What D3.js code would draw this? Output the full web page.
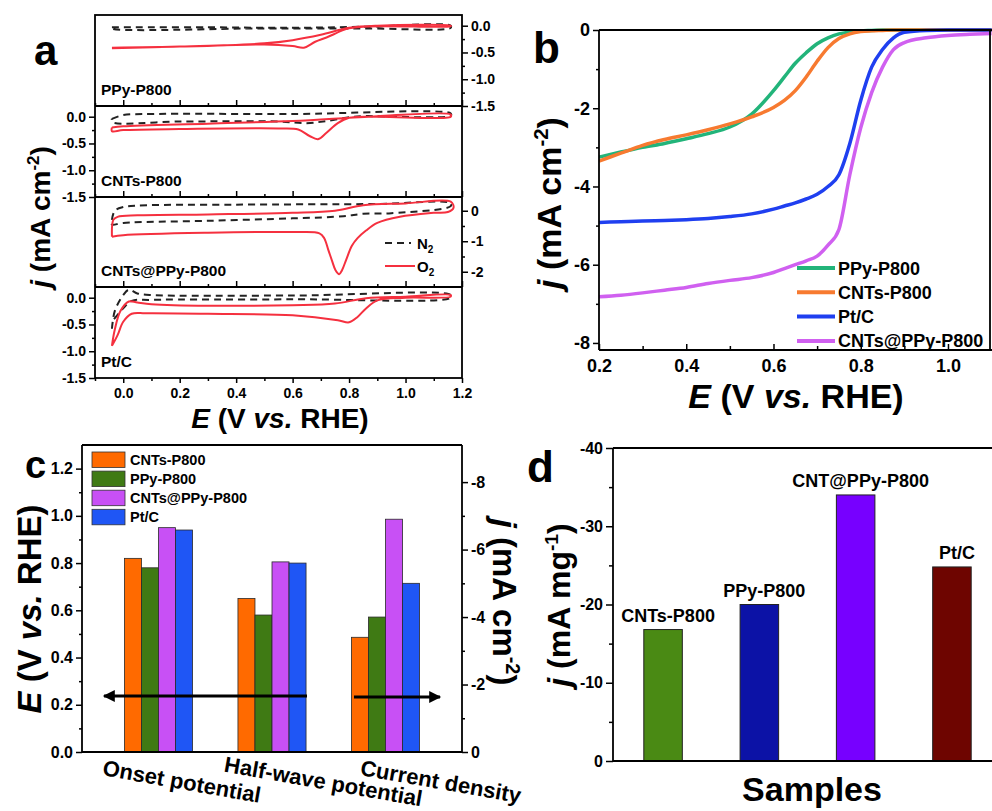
<!DOCTYPE html>
<html>
<head>
<meta charset="utf-8">
<script src="https://cdn.jsdelivr.net/npm/d3@7"></script>
<style>
body { margin: 0; background: #fff; }
svg { display: block; }
text { font-family: "Liberation Sans", Arial, sans-serif; font-weight: bold; fill: #000; }
</style>
</head>
<body>
<svg width="992" height="811"></svg>
<script>
// ---- panel a : CV loops, [E, j] in sweep order ----
var cvNames = ["PPy-P800", "CNTs-P800", "CNTs@PPy-P800", "Pt/C"];
var ppyN2 = [[-0.04,-0.03],[0.3,-0.03],[0.6,-0.04],[0.85,-0.02],[1.16,0.0],[1.16,-0.04],[0.85,-0.05],[0.5,-0.05],[-0.04,-0.05],[-0.04,-0.03]];
var ppyO2 = [[-0.04,-0.41],[0.2,-0.39],[0.5,-0.33],[0.6,-0.27],[0.7,-0.17],[0.8,-0.04],[0.9,0.0],[1.16,0.0],
             [1.16,-0.01],[0.9,-0.01],[0.8,-0.05],[0.72,-0.22],[0.68,-0.3],[0.64,-0.41],[0.6,-0.38],[0.5,-0.35],[0.2,-0.39],[-0.04,-0.42]];
var cntN2 = [[-0.04,-0.04],[0.0,0.03],[0.1,0.05],[0.6,0.05],[1.16,0.06],[1.16,0.02],[0.85,0.01],[0.8,-0.01],[0.72,-0.08],[0.65,-0.12],[0.55,-0.09],[0.2,-0.09],[-0.04,-0.1],[-0.04,-0.04]];
var cntO2 = [[-0.04,-0.2],[0.0,-0.18],[0.3,-0.13],[0.6,-0.08],[0.8,-0.02],[0.9,0.01],[1.16,0.04],
             [1.16,0.0],[0.9,0.0],[0.8,-0.02],[0.76,-0.12],[0.72,-0.3],[0.69,-0.42],[0.66,-0.36],[0.62,-0.24],[0.55,-0.22],[0.2,-0.23],[0.0,-0.25],[-0.04,-0.27],[-0.04,-0.2]];
var hybN2 = [[-0.04,-0.3],[-0.03,0.0],[0.0,0.12],[0.05,0.17],[0.4,0.2],[0.9,0.22],[1.16,0.25],[1.16,0.15],[0.95,-0.08],[0.85,-0.1],[0.78,-0.18],[0.6,-0.25],[0.3,-0.33],[0.0,-0.4],[-0.04,-0.45],[-0.04,-0.3]];
var hybO2 = [[-0.04,-0.85],[-0.035,-0.3],[-0.02,-0.2],[0.05,-0.15],[0.3,-0.12],[0.6,-0.07],[0.75,0.0],[0.85,0.18],[1.0,0.24],[1.16,0.3],[1.17,0.1],[1.15,-0.04],
             [1.1,-0.07],[0.98,-0.2],[0.9,-0.4],[0.86,-0.65],[0.83,-0.9],[0.81,-1.15],[0.79,-1.6],[0.775,-1.95],[0.765,-2.08],[0.752,-1.95],[0.74,-1.65],[0.727,-1.3],[0.712,-0.9],[0.695,-0.74],[0.6,-0.7],[0.3,-0.72],[0.0,-0.8],[-0.04,-0.85]];
var ptcN2 = [[-0.04,-0.58],[-0.03,-0.25],[0.0,0.05],[0.02,0.15],[0.05,0.08],[0.1,0.05],[0.6,0.04],[1.16,0.05],[1.16,0.0],[0.6,-0.03],[0.1,-0.04],[0.03,-0.06],[0.0,-0.2],[-0.04,-0.45]];
var ptcO2 = [[-0.04,-0.9],[-0.03,-0.6],[-0.01,-0.25],[0.02,-0.07],[0.05,-0.09],[0.1,-0.12],[0.3,-0.15],[0.6,-0.14],[0.75,-0.11],[0.86,-0.01],[1.0,0.02],[1.16,0.05],
             [1.16,0.02],[1.0,0.0],[0.9,-0.05],[0.86,-0.2],[0.83,-0.36],[0.8,-0.46],[0.76,-0.42],[0.6,-0.33],[0.3,-0.3],[0.08,-0.29],[0.03,-0.3],[0.0,-0.45],[-0.02,-0.7],[-0.04,-0.9]];
var cvN2 = [ppyN2, cntN2, hybN2, ptcN2];
var cvO2 = [ppyO2, cntO2, hybO2, ptcO2];
var aTicksX = [0, 0.2, 0.4, 0.6, 0.8, 1.0, 1.2];

// ---- panel b : LSV ----
var lsvNames = ["PPy-P800", "CNTs-P800", "Pt/C", "CNTs@PPy-P800"];
var lsvE = [0.2,0.25,0.3,0.35,0.4,0.45,0.5,0.55,0.6,0.625,0.65,0.675,0.7,0.725,0.75,0.775,0.8,0.825,0.85,0.875,0.9,0.95,1.0,1.05,1.1];
var lsvPPy = [-3.25,-3.12,-3.0,-2.9,-2.78,-2.65,-2.48,-2.15,-1.55,-1.2,-0.85,-0.58,-0.35,-0.2,-0.1,-0.05,-0.02,-0.01,0,0,0,0,0,0,0];
var lsvCNT = [-3.35,-3.15,-2.95,-2.8,-2.68,-2.55,-2.4,-2.22,-1.98,-1.8,-1.55,-1.2,-0.8,-0.45,-0.22,-0.1,-0.04,-0.02,-0.01,0,0,0,0,0,0];
var lsvPtC = [-4.92,-4.9,-4.88,-4.87,-4.85,-4.82,-4.77,-4.7,-4.58,-4.5,-4.42,-4.32,-4.2,-4.0,-3.7,-2.9,-1.8,-0.95,-0.5,-0.2,-0.06,-0.01,0,0,0];
var lsvHyb = [-6.82,-6.78,-6.72,-6.65,-6.58,-6.48,-6.4,-6.33,-6.2,-6.1,-6.0,-5.9,-5.78,-5.5,-5.1,-3.7,-2.5,-1.6,-0.95,-0.5,-0.32,-0.2,-0.14,-0.11,-0.09];
var lsvSeries = [lsvPPy, lsvCNT, lsvPtC, lsvHyb];
var lsvColors = ["#22b47a", "#f77a30", "#1f3ff0", "#d060f0"];

// ---- panel c : grouped bars ----
var cCats = ["Onset potential", "Half-wave potential", "Current density"];
var cSeries = ["CNTs-P800", "PPy-P800", "CNTs@PPy-P800", "Pt/C"];
var onsetPotential = [0.82, 0.78, 0.95, 0.94];
var halfWavePotential = [0.65, 0.58, 0.805, 0.80];
var currentDensity = [-3.4, -4.0, -6.9, -5.0];
var cColors = ["#ff6a00", "#3f7a14", "#c850f5", "#1f56f5"];

// ---- panel d : mass activity ----
var dSamples = ["CNTs-P800", "PPy-P800", "CNT@PPy-P800", "Pt/C"];
var dValues = [-16.8, -20.0, -34.0, -24.8];
var dColors = ["#4a8a14", "#0c12a6", "#7700ff", "#6e0500"];

var svg = d3.select("svg");

function drawAxis(gen, tx, ty, size) {
  var g = svg.append("g").attr("transform", "translate(" + tx + "," + ty + ")").call(gen);
  g.select(".domain").remove();
  g.selectAll("line").attr("stroke", "#000").attr("stroke-width", 1.5);
  g.selectAll("text").attr("font-size", size).attr("fill", "#000");
  return g;
}
function hline(x1, x2, y) {
  svg.append("line").attr("x1", x1).attr("x2", x2).attr("y1", y).attr("y2", y).attr("stroke", "#000").attr("stroke-width", 1.8);
}
function vline(x, y1, y2) {
  svg.append("line").attr("x1", x).attr("x2", x).attr("y1", y1).attr("y2", y2).attr("stroke", "#000").attr("stroke-width", 1.8);
}
function label(x, y, txt, size, rot, anchor) {
  return svg.append("text").attr("transform", "translate(" + x + "," + y + ")" + (rot ? " rotate(" + rot + ")" : ""))
    .attr("text-anchor", anchor || "middle").attr("font-size", size).text(txt);
}
function unitLabel(x, y, size, rot, sup, unit) {
  var t = label(x, y, "", size, rot);
  t.append("tspan").attr("font-style", "italic").text("j");
  t.append("tspan").text(" (mA " + unit);
  t.append("tspan").attr("font-size", size * 0.6).attr("dy", -size * 0.38).text(sup);
  t.append("tspan").attr("dy", size * 0.38).text(")");
}
function evsLabel(x, y, size, rot) {
  var t = label(x, y, "", size, rot);
  t.append("tspan").attr("font-style", "italic").text("E");
  t.append("tspan").text(" (V ");
  t.append("tspan").attr("font-style", "italic").text("vs.");
  t.append("tspan").text(" RHE)");
}

// ================= panel a =================
var aX = d3.scaleLinear().domain([-0.1, 1.2]).range([95, 462]);
var aTop = [15, 106, 197, 287], aBot = [106, 197, 287, 378];
var aDom = [[-1.5, 0.2], [-1.5, 0.2], [-2.5, 0.45], [-1.5, 0.2]];
var aMinorX = d3.range(-0.1, 1.2, 0.2).map(function(v) { return +v.toFixed(1); });

cvNames.forEach(function(name, i) {
  var y = d3.scaleLinear().domain(aDom[i]).range([aBot[i], aTop[i]]);
  var line = d3.line().x(function(d) { return aX(d[0]); }).y(function(d) { return y(d[1]); }).curve(d3.curveCatmullRom);
  svg.append("path").attr("d", line(cvN2[i])).attr("fill", "none").attr("stroke", "#222")
    .attr("stroke-width", 2).attr("stroke-dasharray", "7,5");
  svg.append("path").attr("d", line(cvO2[i])).attr("fill", "none").attr("stroke", "#f5303f").attr("stroke-width", 2);

  var big = i === 2;
  var major = big ? [0, -1, -2] : [0, -0.5, -1, -1.5];
  var minor = big ? [-0.5, -1.5] : [-0.25, -0.75, -1.25];
  var fmt = big ? function(v) { return String(v); } : function(v) { return v.toFixed(1); };
  var right = (i === 0 || i === 2);
  var ax = right ? d3.axisRight(y) : d3.axisLeft(y);
  drawAxis(ax.tickValues(major).tickSize(6).tickPadding(3).tickFormat(fmt), right ? 462 : 95, 0, 14);
  drawAxis((right ? d3.axisRight(y) : d3.axisLeft(y)).tickValues(minor).tickSize(3).tickFormat(""), right ? 462 : 95, 0, 14);

  if (i < 3) {
    drawAxis(d3.axisBottom(aX).tickValues(aTicksX).tickSize(-6).tickFormat(""), 0, aBot[i], 14);
    drawAxis(d3.axisBottom(aX).tickValues(aMinorX).tickSize(-3).tickFormat(""), 0, aBot[i], 14);
  } else {
    drawAxis(d3.axisBottom(aX).tickValues(aTicksX).tickSize(5).tickPadding(5).tickFormat(function(v) { return v.toFixed(1); }), 0, aBot[i], 14);
    drawAxis(d3.axisBottom(aX).tickValues(aMinorX).tickSize(3).tickFormat(""), 0, aBot[i], 14);
  }
  label(101, aBot[i] - 11, name, 15.5, 0, "start");
  if (i > 0) hline(95, 462, aTop[i]);
});
svg.append("rect").attr("x", 95).attr("y", 15).attr("width", 367).attr("height", 363)
  .attr("fill", "none").attr("stroke", "#000").attr("stroke-width", 1.8);

// N2 / O2 legend
svg.append("line").attr("x1", 385).attr("x2", 411).attr("y1", 243).attr("y2", 243)
  .attr("stroke", "#222").attr("stroke-width", 2).attr("stroke-dasharray", "7,5");
svg.append("line").attr("x1", 385).attr("x2", 415).attr("y1", 266).attr("y2", 266)
  .attr("stroke", "#f5303f").attr("stroke-width", 2);
["N", "O"].forEach(function(s, k) {
  var t = label(417, 249 + k * 23, s, 15, 0, "start");
  t.append("tspan").attr("font-size", 10).attr("dy", 4).text("2");
});

label(34, 65, "a", 42, 0, "start");
unitLabel(50, 217, 28, -90, "-2", "cm");
evsLabel(280, 428, 28, 0);

// ================= panel b =================
var bX = d3.scaleLinear().domain([0.2, 1.1]).range([599, 991.6]);
var bY = d3.scaleLinear().domain([-8.18, 0]).range([350, 30]);
svg.append("clipPath").attr("id", "bclip").append("rect").attr("x", 599).attr("y", 28).attr("width", 393).attr("height", 324);
var bLine = d3.line().x(function(d, k) { return bX(lsvE[k]); }).y(function(d) { return bY(d); }).curve(d3.curveMonotoneX);
lsvSeries.forEach(function(s, i) {
  svg.append("path").attr("d", bLine(s)).attr("fill", "none").attr("stroke", lsvColors[i])
    .attr("stroke-width", 3.5).attr("clip-path", "url(#bclip)");
});
drawAxis(d3.axisLeft(bY).tickValues([0, -2, -4, -6, -8]).tickSize(6).tickPadding(3).tickFormat(function(v) { return String(v); }), 599, 0, 18);
drawAxis(d3.axisLeft(bY).tickValues([-1, -3, -5, -7]).tickSize(3).tickFormat(""), 599, 0, 18);
drawAxis(d3.axisBottom(bX).tickValues([0.2, 0.4, 0.6, 0.8, 1.0]).tickSize(-6).tickPadding(9).tickFormat(function(v) { return v.toFixed(1); }), 0, 350, 18);
drawAxis(d3.axisBottom(bX).tickValues([0.3, 0.5, 0.7, 0.9]).tickSize(-4).tickFormat(""), 0, 350, 18);
hline(599, 992, 30); hline(599, 992, 350); vline(599, 30, 350); vline(990, 30, 350);

lsvNames.forEach(function(n, i) {
  var yy = 268 + i * 24.3;
  svg.append("line").attr("x1", 797).attr("x2", 835).attr("y1", yy).attr("y2", yy)
    .attr("stroke", lsvColors[i]).attr("stroke-width", 4);
  label(838, yy + 6.5, n, 18, 0, "start");
});
label(533, 63, "b", 44, 0, "start");
unitLabel(561, 203, 34, -90, "-2", "cm");
evsLabel(796, 408, 34, 0);

// ================= panel c =================
var cY = d3.scaleLinear().domain([0, 1.3]).range([752, 445]);
var cYR = d3.scaleLinear().domain([0, -9.1]).range([752, 445]);
var cX = d3.scaleBand().domain(cCats).range([82, 462]).paddingInner(0.4).paddingOuter(0.374);
var cSub = d3.scaleBand().domain(cSeries).range([0, cX.bandwidth()]);
var cRows = [onsetPotential, halfWavePotential, currentDensity];
var cScales = [cY, cY, cYR];

cCats.forEach(function(cat, gi) {
  svg.append("g").attr("transform", "translate(" + cX(cat) + ",0)")
    .selectAll("rect").data(cRows[gi]).enter().append("rect")
    .attr("x", function(d, k) { return cSub(cSeries[k]); })
    .attr("width", cSub.bandwidth())
    .attr("y", function(d) { return cScales[gi](d); })
    .attr("height", function(d) { return 752 - cScales[gi](d); })
    .attr("fill", function(d, k) { return cColors[k]; })
    .attr("stroke", "#2a2a2a").attr("stroke-width", 0.8);
});
drawAxis(d3.axisLeft(cY).tickValues([0, 0.2, 0.4, 0.6, 0.8, 1.0, 1.2]).tickSize(6).tickPadding(3).tickFormat(function(v) { return v.toFixed(1); }), 82, 0, 16);
drawAxis(d3.axisLeft(cY).tickValues([0.1, 0.3, 0.5, 0.7, 0.9, 1.1]).tickSize(3).tickFormat(""), 82, 0, 16);
drawAxis(d3.axisRight(cYR).tickValues([0, -2, -4, -6, -8]).tickSize(6).tickPadding(3).tickFormat(function(v) { return String(v); }), 462, 0, 16);
drawAxis(d3.axisRight(cYR).tickValues([-1, -3, -5, -7]).tickSize(3).tickFormat(""), 462, 0, 16);
hline(82, 462, 445); hline(82, 462, 752); vline(82, 445, 752); vline(462, 445, 752);

// category labels, slightly tilted
var catDx = [22, 50, 54];
cCats.forEach(function(cat, gi) {
  label(cX(cat) + cX.bandwidth() / 2 + catDx[gi], 789, cat, 22, 10);
});

// arrows pointing to the axis each group is read from
var defs = svg.append("defs");
defs.append("marker").attr("id", "arrowHead").attr("viewBox", "0 0 10 10").attr("refX", 9).attr("refY", 5)
  .attr("markerWidth", 5).attr("markerHeight", 4).attr("orient", "auto").attr("markerUnits", "strokeWidth")
  .append("path").attr("d", "M0,0L10,5L0,10z").attr("fill", "#000");
svg.append("line").attr("x1", 307).attr("x2", 104).attr("y1", 696).attr("y2", 696)
  .attr("stroke", "#000").attr("stroke-width", 3).attr("marker-end", "url(#arrowHead)");
svg.append("line").attr("x1", 354).attr("x2", 440).attr("y1", 697).attr("y2", 697)
  .attr("stroke", "#000").attr("stroke-width", 3).attr("marker-end", "url(#arrowHead)");

cSeries.forEach(function(n, k) {
  svg.append("rect").attr("x", 92).attr("y", 452 + k * 19.1).attr("width", 33).attr("height", 15.5)
    .attr("fill", cColors[k]).attr("stroke", "#333").attr("stroke-width", 0.8);
  label(130, 465 + k * 19.1, n, 14.5, 0, "start");
});
label(25, 478, "c", 38, 0, "start");
evsLabel(41, 609, 33, -90);
unitLabel(493, 602, 33, 90, "-2", "cm");

// ================= panel d =================
var dY = d3.scaleLinear().domain([0, -40]).range([761, 448]);
var dX = d3.scaleBand().domain(dSamples).range([613, 1002]).paddingInner(0.6).paddingOuter(0.32);
svg.append("g").selectAll("rect").data(dValues).enter().append("rect")
  .attr("x", function(d, k) { return dX(dSamples[k]); })
  .attr("width", dX.bandwidth())
  .attr("y", function(d) { return dY(d); })
  .attr("height", function(d) { return 761 - dY(d); })
  .attr("fill", function(d, k) { return dColors[k]; })
  .attr("stroke", "#222").attr("stroke-width", 1);
svg.append("g").selectAll("text").data(dValues).enter().append("text")
  .attr("x", function(d, k) { return dX(dSamples[k]) + dX.bandwidth() / 2 + 5; })
  .attr("y", function(d) { return dY(d) - 8; })
  .attr("text-anchor", "middle").attr("font-size", 18)
  .text(function(d, k) { return dSamples[k]; });
drawAxis(d3.axisLeft(dY).tickValues([0, -10, -20, -30, -40]).tickSize(7).tickPadding(3).tickFormat(function(v) { return String(v); }), 613, 0, 16);
drawAxis(d3.axisLeft(dY).tickValues([-5, -15, -25, -35]).tickSize(4).tickFormat(""), 613, 0, 16);
hline(613, 992, 448); hline(613, 992, 761); vline(613, 448, 761);

label(527, 482, "d", 44, 0, "start");
unitLabel(570, 605, 32, -90, "-1", "mg");
label(812, 801, "Samples", 34);
</script>
</body>
</html>
